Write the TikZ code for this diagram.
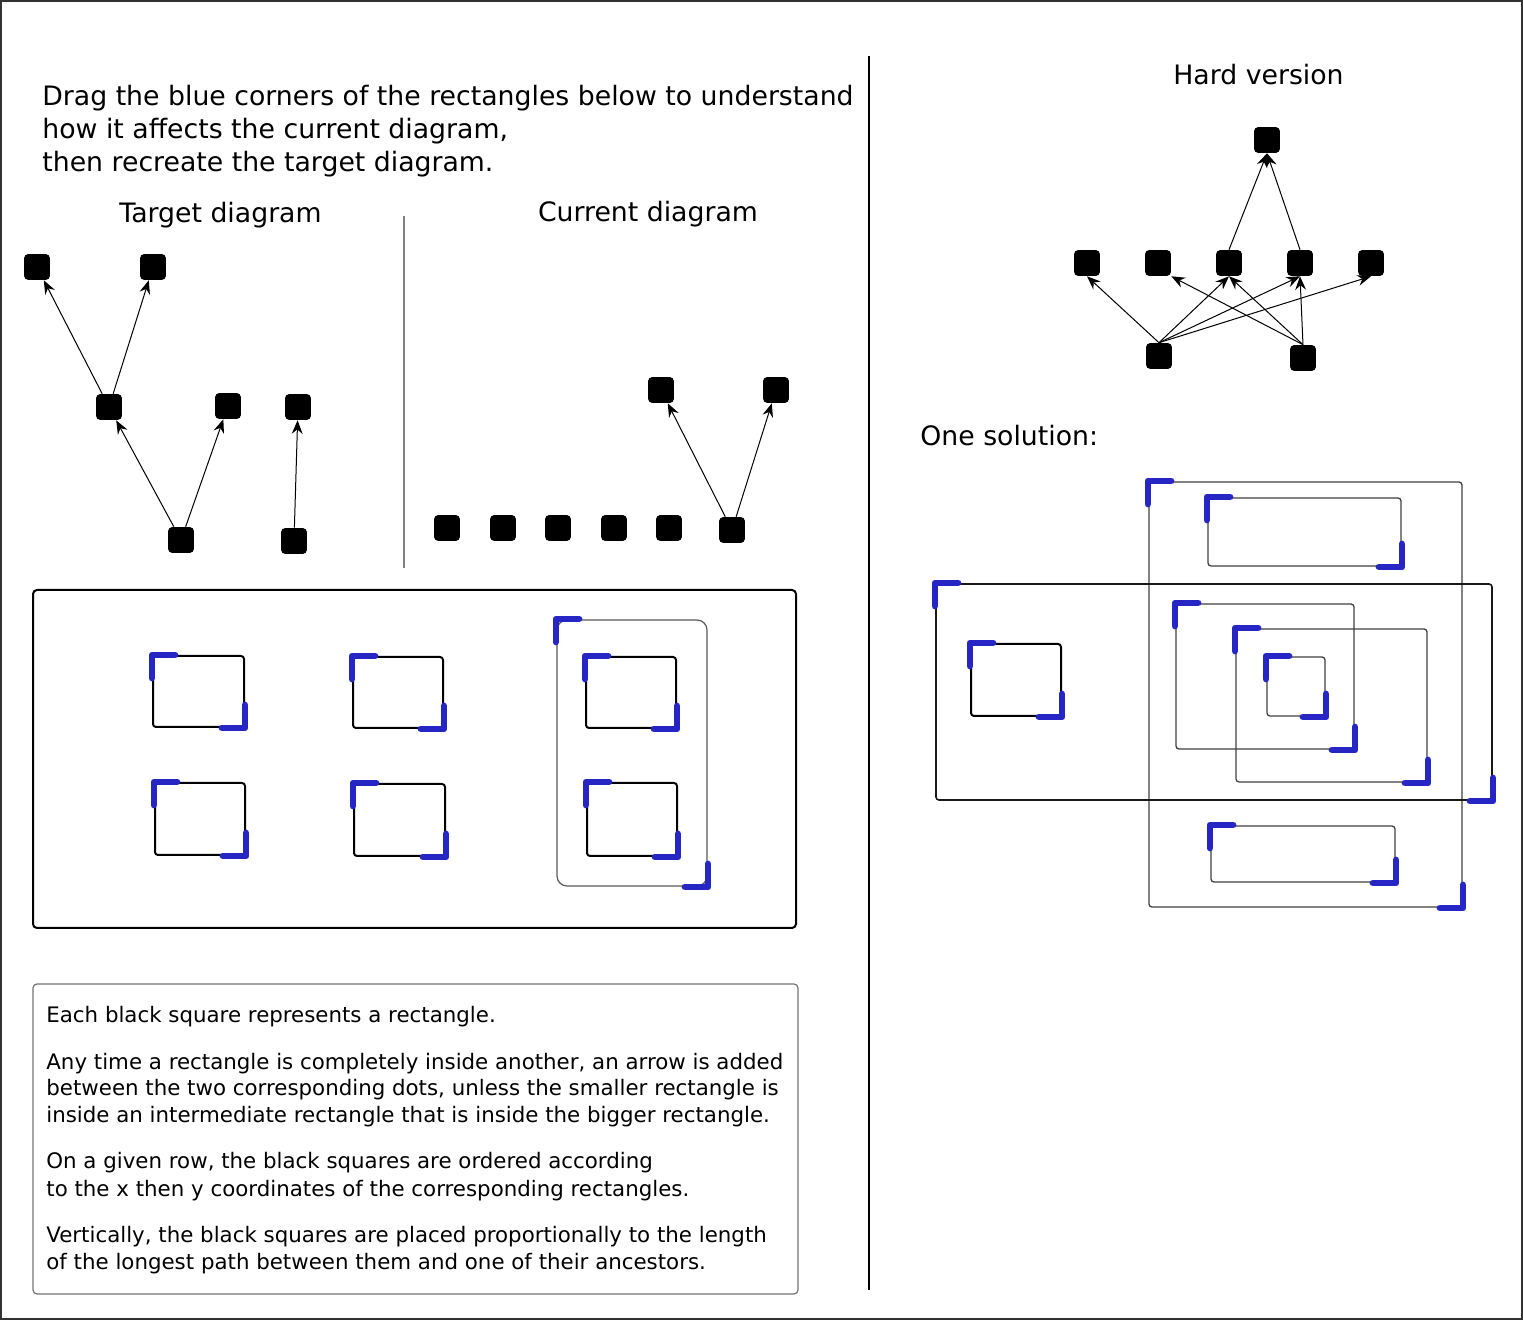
\documentclass[tikz,border=0pt]{standalone}
\usepackage{fontspec}
\setmainfont{DejaVu Sans}
\usetikzlibrary{arrows.meta}
\definecolor{cblue}{RGB}{38,38,196}
\newcommand\bigfont{\fontsize{13.36}{16.5}\selectfont}
\newcommand\smallfont{\fontsize{10.67}{13.25}\selectfont}
\newcommand\cornrect[5]{%
  \draw[#5] (#1,#2) rectangle (#3,#4);
  \draw[bluec] (#1+22,#2-1) -- (#1-1,#2-1) -- (#1-1,#2+22);
  \draw[bluec] (#3-22,#4+1) -- (#3+1,#4+1) -- (#3+1,#4-22);}
\begin{document}
\begin{tikzpicture}[x=0.5pt,y=-0.5pt,
  sq/.style={fill=black, rounded corners=2pt, minimum size=12.9pt, inner sep=0pt},
  arr/.style={-{Stealth[length=6.8pt,width=5.4pt,inset=2.3pt]}, line width=0.5pt},
  bluec/.style={cblue, line width=3.4pt, line cap=round, line join=round},
  rk/.style={black, line width=1pt, rounded corners=1.5pt},
  rg/.style={black!65, line width=0.6pt, rounded corners=5pt},
  rt/.style={black!75, line width=0.65pt, rounded corners=1.5pt},
  rm/.style={black!90, line width=0.8pt, rounded corners=1.5pt},
  big/.style={inner sep=0pt, font=\bigfont},
  small/.style={inner sep=0pt, font=\smallfont, anchor=base west}]
\useasboundingbox (0,0) rectangle (1523,1320);
\draw[black!80, line width=0.8pt] (1,1) rectangle (1522,1319);

% dividers
\draw[black, line width=1pt] (869,56) -- (869,1290);
\draw[black!50, line width=0.8pt] (404,216) -- (404,568);

% intro text
\node[big, anchor=base west] (l1) at (42,106) {Drag the blue corners of the rectangles below to understand};
\node[big, anchor=base west] (l2) at (42,139) {how it affects the current diagram,};
\node[big, anchor=base west] (l3) at (42,172) {then recreate the target diagram.};

% headings
\node[big, anchor=base] (hT) at (220.5,223) {Target diagram};
\node[big, anchor=base] (hC) at (648,222) {Current diagram};
\node[big, anchor=base] (hH) at (1258.5,85) {Hard version};
\node[big, anchor=base west] (hS) at (920,446) {One solution:};

% target diagram
\node[sq] (T1) at (37,267) {};
\node[sq] (T2) at (153,267) {};
\node[sq] (T3) at (109,407) {};
\node[sq] (T4) at (228,406) {};
\node[sq] (T5) at (298,407) {};
\node[sq] (T6) at (181,540) {};
\node[sq] (T7) at (294,541) {};
\draw[arr] (T6) -- (T3);
\draw[arr] (T6) -- (T4);
\draw[arr] (T3) -- (T1);
\draw[arr] (T3) -- (T2);
\draw[arr] (T7) -- (T5);

% current diagram
\node[sq] (C1) at (447,528) {};
\node[sq] (C2) at (503,528) {};
\node[sq] (C3) at (558,528) {};
\node[sq] (C4) at (614,528) {};
\node[sq] (C5) at (669,528) {};
\node[sq] (C6) at (732,530) {};
\node[sq] (C7) at (661,390) {};
\node[sq] (C8) at (776,390) {};
\draw[arr] (C6) -- (C7);
\draw[arr] (C6) -- (C8);

% hard version
\node[sq] (H0) at (1267,140) {};
\node[sq] (H1) at (1087,263) {};
\node[sq] (H2) at (1158,263) {};
\node[sq] (H3) at (1229,263) {};
\node[sq] (H4) at (1300,263) {};
\node[sq] (H5) at (1371,263) {};
\node[sq] (H6) at (1159,356) {};
\node[sq] (H7) at (1303,358) {};
\draw[arr] (H3.north) -- (H0.south);
\draw[arr] (H4.north) -- (H0.south);
\draw[arr] (H6.north) -- (H1.south);
\draw[arr] (H6.north) -- (H3.south);
\draw[arr] (H6.north) -- (H4.south);
\draw[arr] (H6.north) -- (H5.south);
\draw[arr] (H7.north) -- (H2.south east);
\draw[arr] (H7.north) -- (H3.south);
\draw[arr] (H7.north) -- (H4.south);

% editor box
\draw[black, line width=1pt, rounded corners=2pt] (33,590) rectangle (796,928);
\cornrect{153}{656}{244}{727}{rk}
\cornrect{353}{657}{443}{728}{rk}
\cornrect{155}{783}{245}{855}{rk}
\cornrect{354}{784}{445}{856}{rk}
\cornrect{557}{620}{707}{886}{rg}
\cornrect{586}{657}{676}{728}{rk}
\cornrect{587}{783}{677}{856}{rk}

% solution
\cornrect{1149}{482}{1462}{907}{rt}
\cornrect{1208}{498}{1401}{566}{rt}
\cornrect{936}{584}{1492}{800}{rm}
\cornrect{971}{644}{1061}{716}{rk}
\cornrect{1176}{604}{1354}{749}{rt}
\cornrect{1236}{629}{1427}{782}{rt}
\cornrect{1267}{657}{1325}{716}{rt}
\cornrect{1211}{826}{1395}{882}{rt}

% explanation box
\draw[black!55, line width=0.6pt, rounded corners=2pt] (33,984) rectangle (798,1294);
\node[small] (e1) at (46,1023) {Each black square represents a rectangle.};
\node[small] (e2) at (46,1070) {Any time a rectangle is completely inside another, an arrow is added};
\node[small] (e3) at (46,1096) {between the two corresponding dots, unless the smaller rectangle is};
\node[small] (e4) at (46,1123) {inside an intermediate rectangle that is inside the bigger rectangle.};
\node[small] (e5) at (46,1169) {On a given row, the black squares are ordered according};
\node[small] (e6) at (46,1196) {to the x then y coordinates of the corresponding rectangles.};
\node[small] (e7) at (46,1243) {Vertically, the black squares are placed proportionally to the length};
\node[small] (e8) at (46,1269) {of the longest path between them and one of their ancestors.};
\end{tikzpicture}
\end{document}
